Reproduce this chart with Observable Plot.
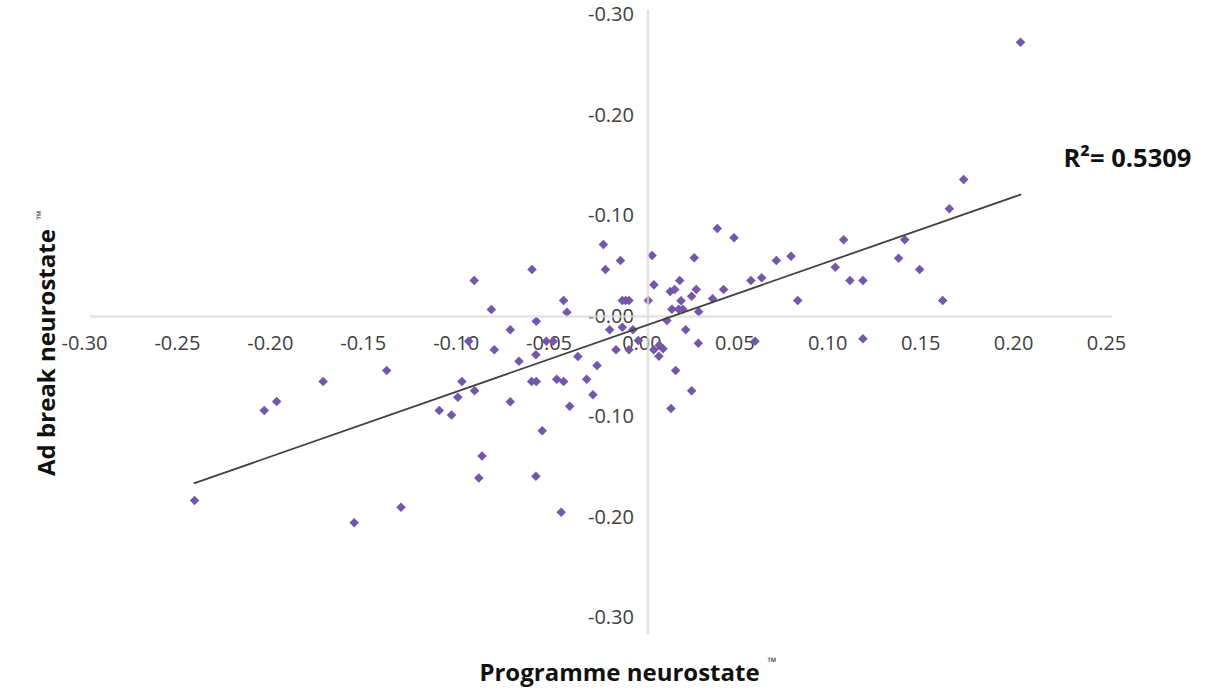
<!DOCTYPE html>
<html>
<head>
<meta charset="utf-8">
<script src="https://cdn.jsdelivr.net/npm/d3@7"></script>
<script src="https://cdn.jsdelivr.net/npm/@observablehq/plot@0.6"></script>
<style>
  html, body { margin: 0; padding: 0; background: #ffffff; }
  svg { display: block; }
</style>
</head>
<body>
<div id="chart"></div>
<script>
// Programme neurostate (x) for each programme
const programme = [
  -0.2440, -0.2065, -0.1998, -0.1748, -0.1406, -0.1581, -0.1329, -0.1123, -0.1057, -0.1001,
  -0.1023, -0.0933, -0.0910, -0.0893, -0.0935, -0.0843, -0.0965, -0.0827, -0.0741, -0.0741,
  -0.0694, -0.0624, -0.0626, -0.0601, -0.0601, -0.0603, -0.0603, -0.0569, -0.0547, -0.0510,
  -0.0491, -0.0467, -0.0454, -0.0454, -0.0436, -0.0421, -0.0377, -0.0330, -0.0296, -0.0274,
  -0.0240, -0.0229, -0.0206, -0.0172, -0.0148, -0.0138, -0.0120, -0.0102, -0.0138, -0.0102,
  -0.0081, -0.0052,  0.0002,  0.0022,  0.0032,  0.0031,  0.0061,  0.0081,  0.0059,  0.0102,
   0.0120,  0.0144,  0.0129,  0.0124,  0.0149,  0.0171,  0.0178,  0.0165,  0.0188,  0.0203,
   0.0235,  0.0249,  0.0260,  0.0273,  0.0271,  0.0235,  0.0348,  0.0373,  0.0407,  0.0463,
   0.0554,  0.0576,  0.0612,  0.0691,  0.0770,  0.0806,  0.1008,  0.1053,  0.1087,  0.1157,
   0.1157,  0.1349,  0.1382,  0.1462,  0.1586,  0.1622,  0.1699,  0.2005
];
// Ad break neurostate (y) for the same programmes
const adBreak = [
  -0.1830, -0.0935, -0.0846, -0.0647, -0.0537, -0.2053, -0.1898, -0.0935, -0.0980, -0.0647,
  -0.0803, -0.0738, -0.1607, -0.1388,  0.0358,  0.0070, -0.0246, -0.0331, -0.0132, -0.0849,
  -0.0445,  0.0468, -0.0647, -0.0647, -0.0047, -0.0381, -0.1589, -0.1137, -0.0246, -0.0246,
  -0.0624, -0.1947,  0.0159, -0.0647,  0.0043, -0.0893, -0.0398, -0.0624, -0.0779, -0.0488,
   0.0716,  0.0468, -0.0132, -0.0331,  0.0557,  0.0159,  0.0159,  0.0159, -0.0106, -0.0331,
  -0.0132, -0.0239,  0.0159,  0.0607,  0.0315, -0.0331, -0.0286, -0.0321, -0.0395, -0.0040,
   0.0249,  0.0269,  0.0073, -0.0915, -0.0537,  0.0358,  0.0156,  0.0073,  0.0073, -0.0132,
   0.0202,  0.0584,  0.0269,  0.0047, -0.0266, -0.0739,  0.0176,  0.0876,  0.0269,  0.0783,
   0.0358, -0.0246,  0.0385,  0.0557,  0.0600,  0.0159,  0.0491,  0.0763,  0.0358,  0.0358,
  -0.0222,  0.0580,  0.0763,  0.0468,  0.0159,  0.1072,  0.1363,  0.2729
];

const xTicks = [-0.30, -0.25, -0.20, -0.15, -0.10, -0.05, 0.00, 0.05, 0.10, 0.15, 0.20, 0.25];
const xTickLabels = ["-0.30", "-0.25", "-0.20", "-0.15", "-0.10", "-0.05", "0.00", "0.05", "0.10", "0.15", "0.20", "0.25"];
const yTicks = [0.30, 0.20, 0.10, 0.00, -0.10, -0.20, -0.30];
const yTickLabels = ["-0.30", "-0.20", "-0.10", "-0.00", "-0.10", "-0.20", "-0.30"];

const xTitle = "Programme neurostate";
const yTitle = "Ad break neurostate";
const tradeMark = "™";
const rSquaredLabel = "R\u00B2= 0.5309";

const points = programme.map((x, i) => ({x, y: adBreak[i]}));
const xTickTable = xTicks.map((v, i) => ({v, label: xTickLabels[i]}));
const yTickTable = yTicks.map((v, i) => ({v, label: yTickLabels[i]}));

const FONT = "'Open Sans', Lato, sans-serif";
const labelColor = "#404040";
const titleColor = "#111111";

const chart = Plot.plot({
  width: 1231,
  height: 690,
  marginLeft: 90,
  marginRight: 119,
  marginTop: 9.5,
  marginBottom: 55.4,
  style: {fontFamily: FONT, background: "#ffffff"},
  x: {domain: [-0.30, 0.25], axis: null},
  y: {domain: [-0.317, 0.305], axis: null},
  marks: [
    // tick labels placed along the crossing axes
    Plot.text(xTickTable, {x: "v", y: 0, text: "label", dy: 27, dx: -6, fontSize: 20, fill: labelColor, fontFamily: FONT}),
    Plot.text(yTickTable, {x: 0, y: "v", text: "label", textAnchor: "end", dx: -14, fontSize: 20, fill: labelColor, fontFamily: FONT}),
    // data points
    Plot.dot(points, {x: "x", y: "y", symbol: "diamond2", r: 4.3, fill: "#7457a8", stroke: "none"}),
    // axis lines crossing at zero
    Plot.ruleY([0], {stroke: "#d9d9d9", strokeWidth: 2.5, strokeOpacity: 0.75}),
    Plot.ruleX([0], {stroke: "#d9d9d9", strokeWidth: 2.5, strokeOpacity: 0.75}),
    // linear trend line
    Plot.linearRegressionY(points, {x: "x", y: "y", ci: 0, stroke: "#404040", strokeWidth: 1.8}),
    // R squared label
    Plot.text([rSquaredLabel], {frameAnchor: "top-right", textAnchor: "start", lineAnchor: "middle", dx: -49, dy: 148.5, fontSize: 25.5, fontWeight: "bold", fill: titleColor, fontFamily: FONT}),
    // axis titles
    Plot.text([xTitle], {frameAnchor: "bottom", textAnchor: "middle", lineAnchor: "middle", dx: 18, dy: 38, fontSize: 24, fontWeight: "bold", fill: titleColor, fontFamily: FONT}),
    Plot.text([tradeMark], {frameAnchor: "bottom", textAnchor: "start", lineAnchor: "middle", dx: 166, dy: 27.5, fontSize: 12, fill: "#333333", fontFamily: FONT}),
    Plot.text([yTitle], {frameAnchor: "left", rotate: -90, textAnchor: "middle", lineAnchor: "middle", dx: -43, dy: 30, fontSize: 24, fontWeight: "bold", fill: titleColor, fontFamily: FONT}),
    Plot.text([tradeMark], {frameAnchor: "left", rotate: -90, textAnchor: "start", lineAnchor: "middle", dx: -49, dy: -103, fontSize: 12, fill: "#333333", fontFamily: FONT})
  ]
});

document.getElementById("chart").appendChild(chart);
</script>
</body>
</html>
